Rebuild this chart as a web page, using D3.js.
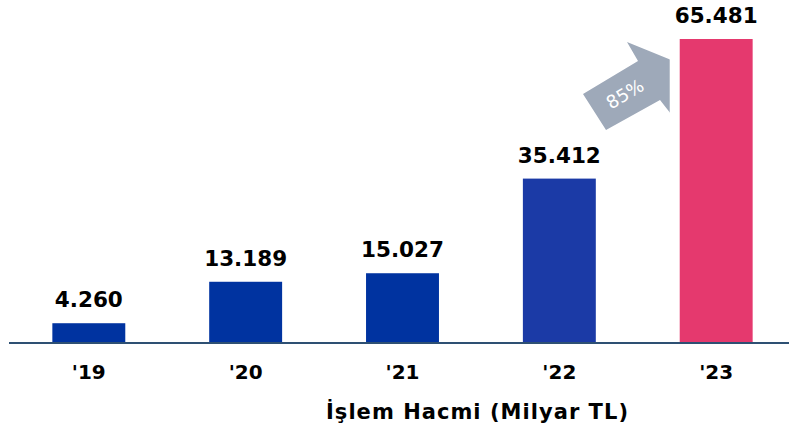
<!DOCTYPE html>
<html lang="tr">
<head>
<meta charset="utf-8">
<title>İşlem Hacmi</title>
<script src="https://cdn.jsdelivr.net/npm/d3@7"></script>
<style>
body { margin: 0; background: #fff; }
text { font-family: "DejaVu Sans", Verdana, sans-serif; }
.value { font-weight: bold; font-size: 21.5px; fill: #000; }
.tick text { font-weight: bold; font-size: 20px; fill: #000; }
.title { font-weight: bold; font-size: 21px; fill: #000; }
</style>
</head>
<body>
<script>

// data
var years = ["'19", "'20", "'21", "'22", "'23"];
var volumes = [4260, 13189, 15027, 35412, 65481];
var valueLabels = ["4.260", "13.189", "15.027", "35.412", "65.481"];
var barColors = ["#0033a0", "#0033a0", "#0033a0", "#1b3aa6", "#e5396e"];
var growthLabel = "85%";

var width = 789, height = 431;
var baseY = 343;

var svg = d3.select("body").append("svg")
  .attr("width", width)
  .attr("height", height);

var x = d3.scaleBand()
  .domain(years)
  .range([10, 795])
  .paddingInner(0.535)
  .paddingOuter(0.27);

var y = d3.scaleLinear()
  .domain([0, 65481])
  .range([baseY, 39]);

var data = years.map(function(d, i) {
  return { year: d, v: volumes[i], label: valueLabels[i], color: barColors[i] };
});

/* bars */
svg.selectAll("rect.bar")
  .data(data)
  .enter().append("rect")
  .attr("class", "bar")
  .attr("x", function(d) { return x(d.year); })
  .attr("y", function(d) { return y(d.v); })
  .attr("width", x.bandwidth())
  .attr("height", function(d) { return baseY - y(d.v); })
  .attr("fill", function(d) { return d.color; });

/* value labels */
svg.selectAll("text.value")
  .data(data)
  .enter().append("text")
  .attr("class", "value")
  .attr("x", function(d) { return x(d.year) + x.bandwidth() / 2; })
  .attr("y", function(d) { return y(d.v) - 16; })
  .attr("text-anchor", "middle")
  .text(function(d) { return d.label; });

/* x axis */
var axis = svg.append("g")
  .attr("transform", "translate(0," + baseY + ")")
  .call(d3.axisBottom(x).tickSize(0).tickPadding(0));
axis.select(".domain").remove();
axis.selectAll(".tick text").attr("dy", null).attr("y", 36);

svg.append("line")
  .attr("x1", 9).attr("x2", width)
  .attr("y1", baseY).attr("y2", baseY)
  .attr("stroke", "#2e5073")
  .attr("stroke-width", 2);

/* axis title */
svg.append("text")
  .attr("class", "title")
  .attr("x", 326)
  .attr("y", 419)
  .attr("textLength", 302)
  .attr("lengthAdjust", "spacing")
  .text("İşlem Hacmi (Milyar TL)");

/* growth arrow between the last two bars, clipped on the right */
var last = x(years[4]);
var arrow = svg.append("g");
svg.append("clipPath").attr("id", "arrowClip")
  .append("rect")
  .attr("x", 0).attr("y", 0)
  .attr("width", last - 10).attr("height", height);

arrow.attr("clip-path", "url(#arrowClip)")
  .append("polygon")
  .attr("points", [[583, 94], [606, 130], [660, 100], [674, 118], [676, 62], [627, 42], [638, 61]].join(" "))
  .attr("fill", "#9ea9b9");

svg.append("text")
  .attr("x", 625)
  .attr("y", 94)
  .attr("transform", "rotate(-31,625,94)")
  .attr("text-anchor", "middle")
  .attr("dy", "0.35em")
  .style("font-size", "18px")
  .style("fill", "#fff")
  .text(growthLabel);

</script>
</body>
</html>
